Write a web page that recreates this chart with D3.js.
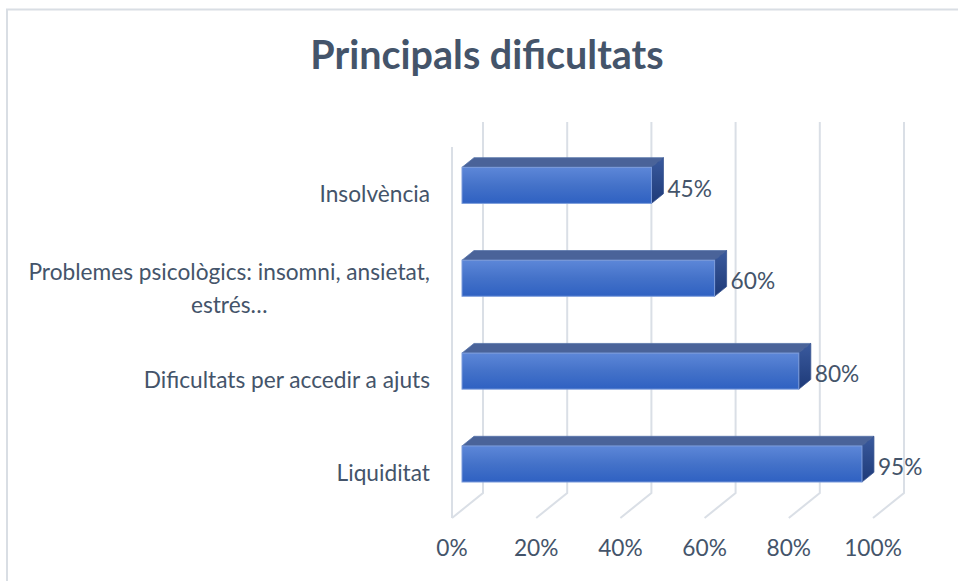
<!DOCTYPE html>
<html>
<head>
<meta charset="utf-8">
<script src="https://cdn.jsdelivr.net/npm/d3@7"></script>
<style>
  html, body { margin: 0; padding: 0; background: #ffffff; }
  svg { display: block; }
  text { font-family: Lato, "Open Sans", sans-serif; fill: #44546A; }
</style>
</head>
<body>
<svg id="chart" width="958" height="581"></svg>
<script>
// ---- data ----
const title = "Principals dificultats";
const categories = [
  "Insolvència",
  "Problemes psicològics: insomni, ansietat, estrés…",
  "Dificultats per accedir a ajuts",
  "Liquiditat"
];
const categoryLines = [
  ["Insolvència"],
  ["Problemes psicològics: insomni, ansietat,", "estrés…"],
  ["Dificultats per accedir a ajuts"],
  ["Liquiditat"]
];
const values = [0.45, 0.60, 0.80, 0.95];
const tickValues = [0, 0.2, 0.4, 0.6, 0.8, 1.0];
const tickLabels = ["0%", "20%", "40%", "60%", "80%", "100%"];

// ---- layout ----
const W = 958, H = 581;
const svg = d3.select("#chart");
const FS = "22.7px";

// chart border
svg.append("path")
  .attr("d", `M7,${H} L7,9.5 L${W},9.5`)
  .attr("fill", "none")
  .attr("stroke", "#D9DEE4")
  .attr("stroke-width", 2);

// title
svg.append("text")
  .attr("x", 487).attr("y", 69)
  .attr("text-anchor", "middle")
  .style("font-size", "39.5px")
  .style("font-weight", "700")
  .text(title);

// 3D projection: front plane scales + depth offset
const x = d3.scaleLinear().domain([0, 1]).range([452, 873]);
const y = d3.scaleBand().domain(categories).range([147, 518.5]).paddingInner(0.612).paddingOuter(0.306);
const DX = 31, DY = -25;          // full depth offset
const dFront = 10 / 31, dBack = 22 / 31; // bar depth slice
const P = (v, yy, d) => [x(v) + d * DX, yy + d * DY];

const floorY = 518, backTop = 122;

// gridlines: back wall verticals + floor diagonals
const grid = svg.append("g").attr("stroke", "#DADFE6").attr("stroke-width", 2).attr("fill", "none");
tickValues.forEach(v => {
  const [bx, by] = P(v, floorY, 1);
  grid.append("path").attr("d", `M${bx},${backTop} L${bx},${by} L${x(v)},${floorY}`);
});
// left front edge
grid.append("path").attr("d", `M${x(0)},147 L${x(0)},${floorY}`);

// gradients
const defs = svg.append("defs");
const gFront = defs.append("linearGradient").attr("id", "gFront").attr("x1", 0).attr("y1", 0).attr("x2", 0).attr("y2", 1);
gFront.append("stop").attr("offset", "0%").attr("stop-color", "#5D87D8");
gFront.append("stop").attr("offset", "50%").attr("stop-color", "#4472C9");
gFront.append("stop").attr("offset", "100%").attr("stop-color", "#2F61C2");
const gSide = defs.append("linearGradient").attr("id", "gSide").attr("x1", 0).attr("y1", 0).attr("x2", 0).attr("y2", 1);
gSide.append("stop").attr("offset", "0%").attr("stop-color", "#3A5A9E");
gSide.append("stop").attr("offset", "100%").attr("stop-color", "#1E3A78");

// bars
const bars = svg.append("g");
categories.forEach((c, i) => {
  const v = values[i];
  const y0 = y(c), h = y.bandwidth();
  const g = bars.append("g");
  const poly = pts => pts.map(p => p.join(",")).join(" ");
  // top face
  g.append("polygon")
    .attr("points", poly([P(0, y0, dFront), P(v, y0, dFront), P(v, y0, dBack), P(0, y0, dBack)]))
    .attr("fill", "#4A6399").attr("stroke", "#5773AA").attr("stroke-width", 0.8);
  // side face
  g.append("polygon")
    .attr("points", poly([P(v, y0, dFront), P(v, y0, dBack), P(v, y0 + h, dBack), P(v, y0 + h, dFront)]))
    .attr("fill", "url(#gSide)").attr("stroke", "#3A5690").attr("stroke-width", 0.8);
  // front face
  const [fx0, fy0] = P(0, y0, dFront);
  const [fx1, fy1] = P(v, y0 + h, dFront);
  g.append("rect")
    .attr("x", fx0).attr("y", fy0).attr("width", fx1 - fx0).attr("height", fy1 - fy0)
    .attr("fill", "url(#gFront)").attr("stroke", "#7C9CDB").attr("stroke-width", 1);
  // value label
  const [lx] = P(v, y0, dBack);
  svg.append("text")
    .attr("x", lx + 4).attr("y", y0 + h / 2 - 5)
    .attr("dy", "0.36em")
    .style("font-size", FS)
    .text(d3.format(".0%")(v));
});

// category labels
categories.forEach((c, i) => {
  const lines = categoryLines[i];
  const cy = y(c) + y.bandwidth() / 2;
  if (lines.length === 1) {
    svg.append("text").attr("x", 430).attr("y", cy + 9)
      .attr("text-anchor", "end").style("font-size", FS).text(lines[0]);
  } else {
    const t1 = svg.append("text").attr("x", 430).attr("y", cy - 6)
      .attr("text-anchor", "end").style("font-size", FS).text(lines[0]);
    const w1 = t1.node().getComputedTextLength();
    svg.append("text").attr("x", 430 - w1 / 2).attr("y", cy + 27)
      .attr("text-anchor", "middle").style("font-size", FS).text(lines[1]);
  }
});

// axis tick labels
tickValues.forEach((v, i) => {
  svg.append("text").attr("x", x(v)).attr("y", 556)
    .attr("text-anchor", "middle").style("font-size", FS).text(tickLabels[i]);
});
</script>
</body>
</html>
